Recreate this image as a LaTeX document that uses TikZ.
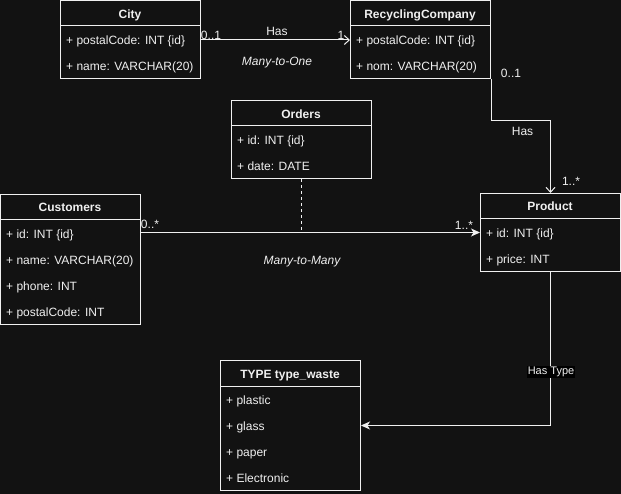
\documentclass[tikz,border=0pt]{standalone}
\usepackage{fontspec}
\setmainfont{Liberation Sans}
\usetikzlibrary{arrows.meta}
\definecolor{bgc}{RGB}{18,18,18}
\definecolor{fgc}{RGB}{240,240,240}
\begin{document}
\begin{tikzpicture}[x=1pt,y=-1pt,
  every node/.style={text=fgc,font=\fontsize{12}{14}\selectfont,inner sep=0pt},
  classbox/.style={draw=fgc,line width=1pt,anchor=north west,minimum width=140pt},
  ttl/.style={font=\fontsize{12}{14}\selectfont\bfseries,anchor=base},
  attr/.style={anchor=base west},
  lbl/.style={},
  ital/.style={font=\fontsize{12}{14}\selectfont\itshape},
  conn/.style={draw=fgc,line width=1pt},
  openarrow/.style={-{Straight Barb[length=5pt,width=9pt,line width=1pt]}},
  solidarrow/.style={-{Stealth[length=9pt,width=8pt,inset=2.5pt]}}
]
\useasboundingbox (0,0) rectangle (621,494);
\fill[bgc] (0,0) rectangle (621,494);

% City
\node[classbox,minimum height=78pt] (city) at (60,0) {};
\draw[conn] (60,26) -- (200,26);
\node[ttl] (cityt) at (130,18.3) {City};
\node[attr] (cityr1) at (66,44.6) {+ postalCode: INT \{id\}};
\node[attr] (cityr2) at (66,70.6) {+ name: VARCHAR(20)};

% RecyclingCompany
\node[classbox,minimum height=78pt] (rc) at (350,0) {};
\draw[conn] (350,26) -- (490,26);
\node[ttl] (rct) at (420,18.3) {RecyclingCompany};
\node[attr] (rcr1) at (356,44.6) {+ postalCode: INT \{id\}};
\node[attr] (rcr2) at (356,70.6) {+ nom: VARCHAR(20)};

% Orders
\node[classbox,minimum height=78pt] (orders) at (231,100) {};
\draw[conn] (231,126) -- (371,126);
\node[ttl] (orderst) at (301,118.3) {Orders};
\node[attr] (ordersr1) at (237,144.6) {+ id: INT \{id\}};
\node[attr] (ordersr2) at (237,170.6) {+ date: DATE};

% Customers
\node[classbox,minimum height=130pt] (cust) at (0,194) {};
\draw[conn] (0,220) -- (140,220);
\node[ttl] (custt) at (70,212) {Customers};
\node[attr] (custr1) at (6,238.6) {+ id: INT \{id\}};
\node[attr] (custr2) at (6,264.6) {+ name: VARCHAR(20)};
\node[attr] (custr3) at (6,290.6) {+ phone: INT};
\node[attr] (custr4) at (6,316.6) {+ postalCode: INT};

% Product
\node[classbox,minimum height=78pt] (prod) at (480,193) {};
\draw[conn] (480,219) -- (620,219);
\node[ttl] (prodt) at (550,211) {Product};
\node[attr] (prodr1) at (486,237.6) {+ id: INT \{id\}};
\node[attr] (prodr2) at (486,263.6) {+ price: INT};

% TYPE type_waste
\node[classbox,minimum height=130pt] (tw) at (220,360) {};
\draw[conn] (220,386) -- (360,386);
\node[ttl] (twt) at (290,378) {TYPE type\_waste};
\node[attr] (twr1) at (226,404.6) {+ plastic};
\node[attr] (twr2) at (226,430.6) {+ glass};
\node[attr] (twr3) at (226,456.6) {+ paper};
\node[attr] (twr4) at (226,482.6) {+ Electronic};

% City -> RecyclingCompany
\coordinate (c1a) at (city.east |- 0,40);
\draw[conn,openarrow] (c1a) -- (c1a -| rc.west);
\node[lbl] (l1) at (211,35) {0..1};
\node[lbl] (l2) at (341,35) {1};
\node[lbl] (l3) at (277,31.5) {Has};
\node[ital] (l4) at (277,63) {Many-to-One};

% RecyclingCompany -> Product
\draw[conn,openarrow] (rc.south east) -- ++(0,42) -| (prod.north);
\node[lbl] (l5) at (511,73.5) {0..1};
\node[lbl] (l6) at (522.5,131.5) {Has};
\node[lbl] (l7) at (571,181) {1..*};

% Customers -> Product
\coordinate (c3a) at (cust.east |- 0,232.5);
\draw[conn,solidarrow] (c3a) -- (c3a -| prod.west);
\node[lbl] (l8) at (150,224.5) {0..*};
\node[lbl] (l9) at (464,225.5) {1..*};
\draw[conn,dashed,dash pattern=on 3pt off 3pt] (orders.south) -- (orders.south |- c3a);
\node[ital] (l10) at (302,262) {Many-to-Many};

% Product -> TYPE
\coordinate (c4a) at (tw.east |- 0,425.5);
\draw[conn,solidarrow] (prod.south) |- (c4a);
\node[fill=black,inner sep=1pt,font=\fontsize{11}{13}\selectfont] (l11) at (551,372) {Has Type};
\end{tikzpicture}
\end{document}
